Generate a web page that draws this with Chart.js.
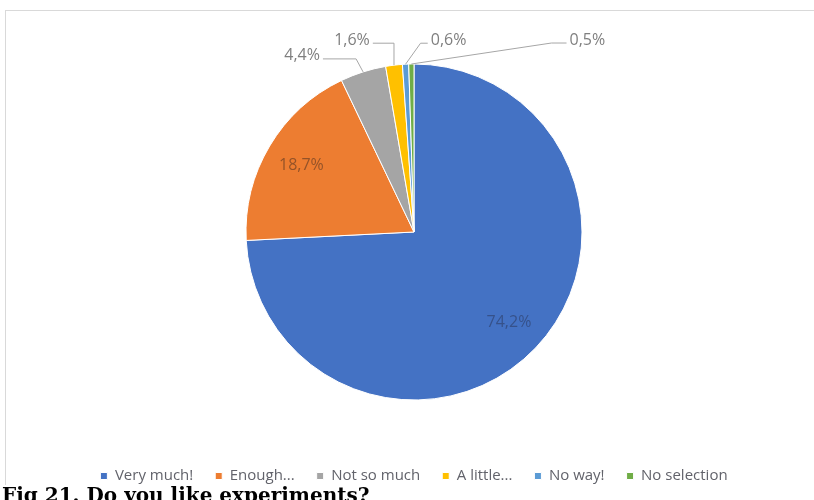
<!DOCTYPE html>
<html lang="en">

<head>
    <meta charset="UTF-8">
    <title>Fig 21. Do you like experiments?</title>
    <script src="https://cdn.jsdelivr.net/npm/chart.js"></script>
    <style>
        body {
            margin: 0;
            width: 814px;
            height: 500px;
            overflow: hidden;
            background: #fff;
            position: relative;
        }

        #moldura {
            position: absolute;
            left: 5px;
            top: 10px;
            width: 830px;
            height: 474px;
            border-top: 1px solid #d9d9d9;
            border-left: 1px solid #d9d9d9;
        }

        #area {
            position: absolute;
            left: 0;
            top: 0;
            width: 814px;
            height: 500px;
        }

        #legenda {
            position: absolute;
            left: 2px;
            top: 483px;
            font: bold 20px "DejaVu Serif";
            color: #000;
            white-space: nowrap;
        }
    </style>
</head>

<body>
    <div id="moldura"></div>
    <div id="area">
        <canvas id="graph_experimentos"></canvas>
    </div>
    <div id="legenda">Fig 21. Do you like experiments?</div>
</body>

</html>

<script>
    const categorias = ['Very much!', 'Enough...', 'Not so much', 'A little...', 'No way!', 'No selection'];
    const percentuais = [74.2, 18.7, 4.4, 1.6, 0.6, 0.5];
    const cores = ['#4472C4', '#ED7D31', '#A5A5A5', '#FFC000', '#5B9BD5', '#70AD47'];

    // rótulos das fatias pequenas ficam fora, com linha guia
    const rotulosFora = {
        2: { dx: -61, dy: -16, cotovelo: -7 },
        3: { dx: -42, dy: -25, cotovelo: 0 },
        4: { dx: 43, dy: -24, cotovelo: 15 },
        5: { dx: 176, dy: -24, cotovelo: 140 },
    };

    const pluginRotulos = {
        id: 'rotulos',
        afterDatasetsDraw(chart) {
            const ctx = chart.ctx;
            const meta = chart.getDatasetMeta(0);
            ctx.save();
            ctx.font = '16px "Open Sans"';
            ctx.textBaseline = 'middle';
            ctx.textAlign = 'center';
            meta.data.forEach(function (arco, i) {
                const p = arco.getProps(['x', 'y', 'startAngle', 'endAngle', 'outerRadius'], true);
                const meio = (p.startAngle + p.endAngle) / 2;
                const texto = percentuais[i].toFixed(1).replace('.', ',') + '%';
                const fora = rotulosFora[i];
                if (!fora) {
                    const r = p.outerRadius * 0.78;
                    ctx.fillStyle = i == 0 ? 'rgba(45, 60, 100, 0.6)' : 'rgba(100, 60, 35, 0.65)';
                    ctx.fillText(texto, p.x + Math.cos(meio) * r, p.y + Math.sin(meio) * r);
                } else {
                    const ax = p.x + Math.cos(meio) * p.outerRadius;
                    const ay = p.y + Math.sin(meio) * p.outerRadius;
                    const tx = ax + fora.dx;
                    const ty = ay + fora.dy;
                    const w = ctx.measureText(texto).width;
                    ctx.fillStyle = '#7f7f7f';
                    ctx.fillText(texto, tx, ty);

                    const inicioX = fora.dx < 0 ? tx + w / 2 + 3 : tx - w / 2 - 3;
                    const linhaY = ty + 3;
                    ctx.strokeStyle = '#a6a6a6';
                    ctx.lineWidth = 1;
                    ctx.beginPath();
                    ctx.moveTo(inicioX, linhaY);
                    ctx.lineTo(ax + fora.cotovelo, linhaY);
                    ctx.lineTo(ax, ay);
                    ctx.stroke();
                }
            });
            ctx.restore();
        }
    };

    const dados = {
        labels: categorias,
        datasets: [{
            data: percentuais,
            backgroundColor: cores,
            borderColor: '#ffffff',
            borderWidth: 1,
        }]
    };

    const config = {
        type: 'pie',
        data: dados,
        options: {
            responsive: true,
            maintainAspectRatio: false,
            animation: false,
            radius: 168,
            layout: { padding: { top: 17.5, left: 14, right: 0, bottom: 6.5 } },
            plugins: {
                legend: {
                    position: 'bottom',
                    labels: {
                        boxWidth: 7,
                        boxHeight: 7,
                        padding: 22,
                        color: '#62636b',
                        font: { family: 'Open Sans', size: 15 }
                    }
                },
                tooltip: { enabled: false }
            }
        },
        plugins: [pluginRotulos]
    };

    let myChart = new Chart(document.getElementById('graph_experimentos'), config);
</script>
